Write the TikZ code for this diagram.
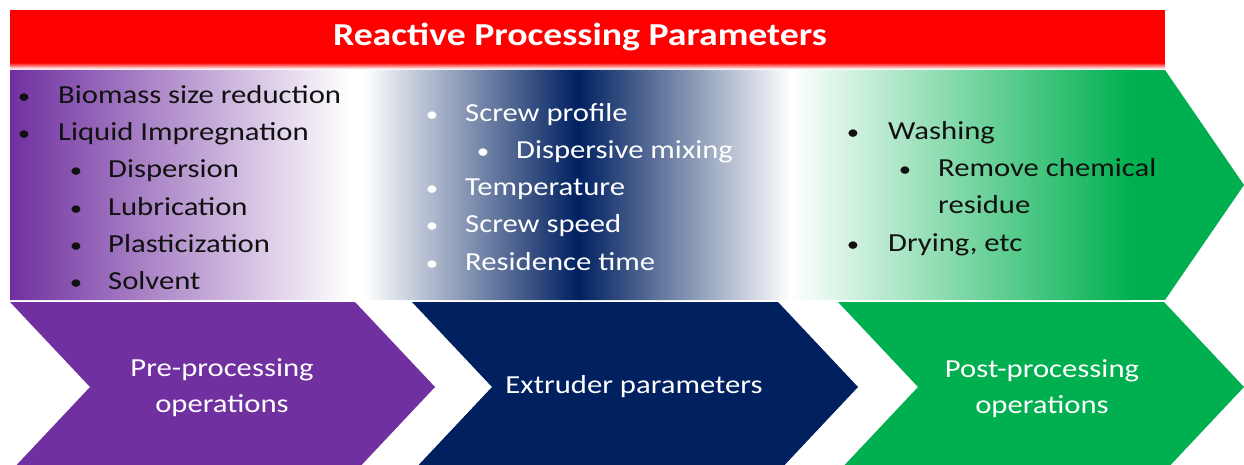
\documentclass[tikz,border=0pt]{standalone}
\usepackage{fontspec}
\setmainfont{Carlito}[FakeStretch=1.18]
\definecolor{purp}{HTML}{7030A0}
\definecolor{navy}{HTML}{002060}
\definecolor{grn}{HTML}{00B050}
\definecolor{redbar}{HTML}{FF0000}
\definecolor{ink}{HTML}{111111}
\tikzset{
  bodyfont/.style={font=\fontsize{26}{30}\selectfont, inner sep=0pt},
  bul/.style={font=\fontsize{21}{30}\selectfont, inner sep=0pt, anchor=base},
  itm/.style={bodyfont, anchor=base west},
  chevlabel/.style={font=\fontsize{26}{36}\selectfont, text=white, align=center, inner sep=0pt},
  titletext/.style={font=\fontsize{32}{36}\selectfont\bfseries, text=white, anchor=base, inner sep=0pt}
}
\begin{document}
\begin{tikzpicture}[x=1pt,y=-1pt]
\useasboundingbox (0,0) rectangle (1244,465);
% red banner
\fill[redbar] (10,10) rectangle (1165,63);
\shade[top color=redbar, bottom color=white] (10,62.5) rectangle (1165,69);
\node[titletext] (title) at (580,46) {Reactive Processing Parameters};
% upper gradient region
\begin{scope}
\clip (10,70) -- (1165,70) -- (1244,185) -- (1165,300) -- (10,300) -- cycle;
\shade[left color=purp, right color=white] (10,70) rectangle (350.5,300);
\fill[white] (350,70) rectangle (365,300);
\shade[left color=white, right color=navy] (364.5,70) rectangle (578.5,300);
\shade[left color=navy, right color=white] (578,70) rectangle (790.5,300);
\shade[left color=white, right color=grn] (790,70) rectangle (1130.5,300);
\fill[grn] (1130,70) rectangle (1244,300);
\end{scope}
% chevrons
\fill[purp] (10,302) -- (355,302) -- (435,387) -- (355,472) -- (10,472) -- (90,387) -- cycle;
\fill[navy] (412,302) -- (778,302) -- (858,387) -- (778,472) -- (412,472) -- (492,387) -- cycle;
\fill[grn] (838,302) -- (1164,302) -- (1244,387) -- (1164,472) -- (838,472) -- (918,387) -- cycle;
\node[chevlabel] (pre) at (222,388) {Pre-processing\\operations};
\node[chevlabel] (ext) at (634,387) {Extruder parameters};
\node[chevlabel] (post) at (1042,389) {Post-processing\\operations};
% left column
\begin{scope}[every node/.append style={text=ink}]
\node[bul] (lb1) at (24,104) {•};
\node[itm] (lt1) at (58,104) {Biomass size reduction};
\node[bul] (lb2) at (24,141) {•};
\node[itm] (lt2) at (58,141) {Liquid Impregnation};
\node[bul] (lb3) at (76,178) {•};
\node[itm] (lt3) at (108,178) {Dispersion};
\node[bul] (lb4) at (76,215) {•};
\node[itm] (lt4) at (108,215) {Lubrication};
\node[bul] (lb5) at (76,252) {•};
\node[itm] (lt5) at (108,252) {Plasticization};
\node[bul] (lb6) at (76,289) {•};
\node[itm] (lt6) at (108,289) {Solvent};
\end{scope}
% middle column
\begin{scope}[every node/.append style={text=white}]
\node[bul] (mb1) at (432,122) {•};
\node[itm] (mt1) at (465,122) {Screw profile};
\node[bul] (mb2) at (483,159) {•};
\node[itm] (mt2) at (516,159) {Dispersive mixing};
\node[bul] (mb3) at (432,196) {•};
\node[itm] (mt3) at (465,196) {Temperature};
\node[bul] (mb4) at (432,233) {•};
\node[itm] (mt4) at (465,233) {Screw speed};
\node[bul] (mb5) at (432,270) {•};
\node[itm] (mt5) at (465,270) {Residence time};
\end{scope}
% right column
\begin{scope}[every node/.append style={text=ink}]
\node[bul] (rb1) at (853,140) {•};
\node[itm] (rt1) at (888,140) {Washing};
\node[bul] (rb2) at (905,177) {•};
\node[itm] (rt2) at (938,177) {Remove chemical};
\node[itm] (rt3) at (938,214) {residue};
\node[bul] (rb4) at (853,251) {•};
\node[itm] (rt4) at (888,251) {Drying, etc};
\end{scope}
\end{tikzpicture}
\end{document}
